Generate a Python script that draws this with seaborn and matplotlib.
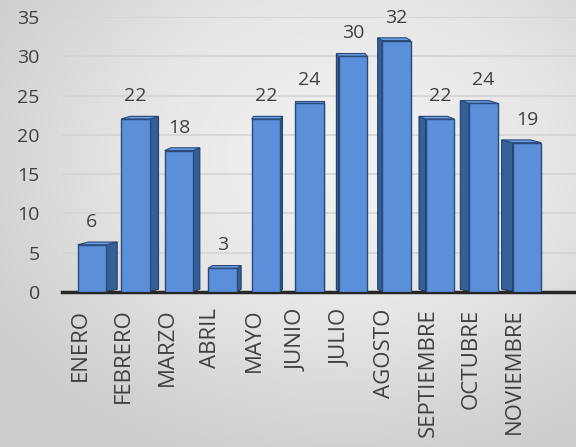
import numpy as np
import pandas as pd
import matplotlib
matplotlib.use("Agg")
import matplotlib.pyplot as plt
import matplotlib.transforms as mtransforms
from matplotlib.patches import Polygon
import seaborn as sns

# Datos del gráfico
meses = ["ENERO", "FEBRERO", "MARZO", "ABRIL", "MAYO", "JUNIO",
         "JULIO", "AGOSTO", "SEPTIEMBRE", "OCTUBRE", "NOVIEMBRE"]
valores = [6, 22, 18, 3, 22, 24, 30, 32, 22, 24, 19]
y_ticks = [0, 5, 10, 15, 20, 25, 30, 35]

sns.set_theme(style="white")
plt.rcParams["font.family"] = ["Open Sans", "DejaVu Sans"]
text_color = "#404040"

fig = plt.figure(figsize=(5.76, 4.47), dpi=100)

# fondo con degradado gris
bg = fig.add_axes([0, 0, 1, 1], zorder=-10)
yy, xx = np.mgrid[0:1:200j, 0:1:200j]
r = np.sqrt(((xx - 0.6) / 0.9) ** 2 + ((yy - 0.65) / 0.9) ** 2)
bg.imshow(r, cmap=matplotlib.colors.LinearSegmentedColormap.from_list(
    "g", ["#f4f4f4", "#e6e6e6", "#cdcdcd"]), vmin=0, vmax=0.8,
    extent=[0, 1, 0, 1], aspect="auto", origin="lower")
bg.axis("off")

ax = fig.add_axes([0.1076, 0.347, 0.8924, 0.615])
ax.patch.set_alpha(0)

df = pd.DataFrame({"mes": meses, "valor": valores})
sns.barplot(data=df, x="mes", y="valor", color="#5b8fd9", width=0.66,
            edgecolor="#2a4a7a", linewidth=1.0, saturation=1, ax=ax, zorder=3)

# efecto 3D: cara lateral y superior
mid = (len(meses) - 1) / 2
for i, bar in enumerate(ax.patches):
    x0, w, h = bar.get_x(), bar.get_width(), bar.get_height()
    dx = -0.05 * (i - mid)
    dh = 0.35
    xe = x0 + w if dx >= 0 else x0
    side = Polygon([(xe, 0), (xe, h), (xe + dx, h + dh), (xe + dx, dh)],
                   closed=True, facecolor="#345f99", edgecolor="#24406a",
                   linewidth=0.8, zorder=2)
    top = Polygon([(x0, h), (x0 + w, h), (x0 + w + dx, h + dh), (x0 + dx, h + dh)],
                  closed=True, facecolor="#6c9de2", edgecolor="#2a4a7a",
                  linewidth=0.8, zorder=2)
    ax.add_patch(side)
    ax.add_patch(top)
    ax.annotate(str(valores[i]), (x0 + w / 2, h), xytext=(0, 10),
                textcoords="offset points", ha="center", va="bottom",
                fontsize=14, color=text_color)

ax.set_xlim(-0.69, 11.13)
ax.set_ylim(0, 35)
ax.set_yticks(y_ticks)
ax.yaxis.grid(True, color="#d4d4d4", linewidth=1.2, zorder=0)
ax.set_axisbelow(True)
for s in ["top", "right", "left"]:
    ax.spines[s].set_visible(False)
ax.spines["bottom"].set_color("#262626")
ax.spines["bottom"].set_linewidth(2.5)
ax.set_xlabel("")
ax.set_ylabel("")
ax.tick_params(axis="both", length=0, labelcolor=text_color)
ax.tick_params(axis="y", pad=16, labelsize=14)
ax.tick_params(axis="x", pad=12, labelsize=16)
plt.setp(ax.get_xticklabels(), rotation=90)
shift = mtransforms.ScaledTranslation(-12 / 100, 0, fig.dpi_scale_trans)
for lbl in ax.get_xticklabels():
    lbl.set_transform(lbl.get_transform() + shift)

fig.savefig("out.png", dpi=100)
